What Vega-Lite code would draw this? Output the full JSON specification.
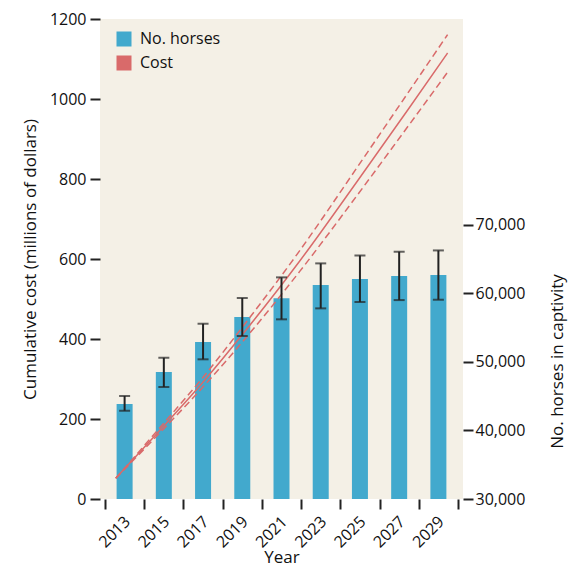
{
  "$schema": "https://vega.github.io/schema/vega-lite/v6.json",
  "width": 363,
  "height": 480,
  "autosize": {"type": "none"},
  "padding": {"left": 100, "top": 19, "right": 114, "bottom": 70},
  "background": "white",
  "config": {
    "view": {"fill": "#f4f0e6", "stroke": null},
    "font": "Open Sans",
    "axis": {"domain": false, "grid": false, "tickColor": "#222222", "tickWidth": 2, "tickSize": 10, "labelColor": "#111111", "titleColor": "#111111", "labelFontSize": 16, "titleFontSize": 17, "titleFontWeight": "normal", "labelFont": "Open Sans", "titleFont": "Open Sans"},
    "axisX": {"labelOverlap": false, "labelFlush": false}
  },
  "datasets": {
    "horses": [
      {"year": 2013, "horses": 43850, "lo": 42870, "hi": 45020},
      {"year": 2015, "horses": 48520, "lo": 46330, "hi": 50600},
      {"year": 2017, "horses": 52890, "lo": 50370, "hi": 55560},
      {"year": 2019, "horses": 56540, "lo": 53770, "hi": 59310},
      {"year": 2021, "horses": 59260, "lo": 56200, "hi": 62320},
      {"year": 2023, "horses": 61200, "lo": 57800, "hi": 64360},
      {"year": 2025, "horses": 62080, "lo": 58720, "hi": 65520},
      {"year": 2027, "horses": 62510, "lo": 59010, "hi": 66060},
      {"year": 2029, "horses": 62660, "lo": 59060, "hi": 66250}
    ],
    "cost": [
      {"year": 2012.55, "cost": 52, "low": 52, "high": 52},
      {"year": 2014.65, "cost": 164, "low": 158, "high": 170},
      {"year": 2016.96, "cost": 290, "low": 278, "high": 302},
      {"year": 2019.2, "cost": 423, "low": 404, "high": 442},
      {"year": 2021.93, "cost": 595, "low": 569, "high": 621},
      {"year": 2024.9, "cost": 797, "low": 762, "high": 832},
      {"year": 2027.5, "cost": 977, "low": 935, "high": 1019},
      {"year": 2029.47, "cost": 1115, "low": 1067, "high": 1161}
    ]
  },
  "encoding": {
    "x": {
      "field": "year", "type": "quantitative",
      "scale": {"domain": [2012, 2030], "nice": false, "zero": false},
      "axis": {
        "title": "Year",
        "values": [2012, 2013, 2014, 2015, 2016, 2017, 2018, 2019, 2020, 2021, 2022, 2023, 2024, 2025, 2026, 2027, 2028, 2029, 2030],
        "format": "d",
        "labelOverlap": false,
        "labelFlush": false,
        "labelOpacity": {"condition": {"test": "datum.value % 2 == 1", "value": 1}, "value": 0},
        "tickOpacity": {"condition": {"test": "datum.value % 2 == 0", "value": 1}, "value": 0},
        "labelAngle": -45,
        "labelFontSize": 16,
        "labelPadding": 4,
        "labelOffset": -3,
        "titleBaseline": "alphabetic",
        "titleY": 63
      }
    }
  },
  "layer": [
    {
      "data": {"name": "horses"},
      "mark": {"type": "bar", "width": 16},
      "encoding": {
        "y": {
          "field": "horses", "type": "quantitative",
          "scale": {"domain": [30000, 100000], "nice": false, "zero": false},
          "axis": {
            "orient": "right",
            "title": "No. horses in captivity",
            "values": [30000, 40000, 50000, 60000, 70000],
            "format": ",d",
            "labelPadding": 2,
            "titleAngle": -90,
            "titleX": 94,
            "titleY": 342,
            "titleBaseline": "middle",
            "titleAlign": "center"
          }
        },
        "y2": {"datum": 30000},
        "color": {
          "datum": "No. horses",
          "scale": {"domain": ["No. horses", "Cost"], "range": ["#42a9cd", "#d96a6a"]},
          "legend": {
            "title": null,
            "orient": "none",
            "legendX": 16,
            "legendY": 12,
            "symbolType": "square",
            "symbolSize": 225,
            "symbolStrokeWidth": 0,
            "labelFontSize": 16,
            "labelFont": "Open Sans",
            "labelColor": "#111111",
            "rowPadding": 8,
            "labelOffset": 8
          }
        }
      }
    },
    {
      "data": {"name": "cost"},
      "encoding": {
        "y": {
          "type": "quantitative",
          "scale": {"domain": [0, 1200], "nice": false},
          "axis": {
            "orient": "left",
            "title": "Cumulative cost (millions of dollars)",
            "values": [0, 200, 400, 600, 800, 1000, 1200],
            "format": "d",
            "labelPadding": 4,
            "titlePadding": 10
          }
        }
      },
      "layer": [
        {"mark": {"type": "line", "color": "#d96a6a", "strokeWidth": 1.5, "interpolate": "monotone"}, "encoding": {"y": {"field": "cost", "type": "quantitative"}}},
        {"mark": {"type": "line", "color": "#d96a6a", "strokeWidth": 1.5, "strokeDash": [7, 4], "interpolate": "monotone"}, "encoding": {"y": {"field": "low", "type": "quantitative"}}},
        {"mark": {"type": "line", "color": "#d96a6a", "strokeWidth": 1.5, "strokeDash": [7, 4], "interpolate": "monotone"}, "encoding": {"y": {"field": "high", "type": "quantitative"}}}
      ]
    },
    {
      "data": {"name": "horses"},
      "layer": [
        {"mark": {"type": "rule", "color": "#222222", "strokeWidth": 2},
         "encoding": {"y": {"field": "lo", "type": "quantitative", "scale": {"domain": [30000, 100000], "nice": false, "zero": false}, "axis": null}, "y2": {"field": "hi"}}},
        {"mark": {"type": "tick", "orient": "horizontal", "color": "#222222", "thickness": 2, "size": 11},
         "encoding": {"y": {"field": "lo", "type": "quantitative", "scale": {"domain": [30000, 100000], "nice": false, "zero": false}, "axis": null}}},
        {"mark": {"type": "tick", "orient": "horizontal", "color": "#222222", "thickness": 2, "size": 11},
         "encoding": {"y": {"field": "hi", "type": "quantitative", "scale": {"domain": [30000, 100000], "nice": false, "zero": false}, "axis": null}}}
      ],
      "resolve": {"scale": {"y": "shared"}}
    }
  ],
  "resolve": {"scale": {"y": "independent"}}
}
